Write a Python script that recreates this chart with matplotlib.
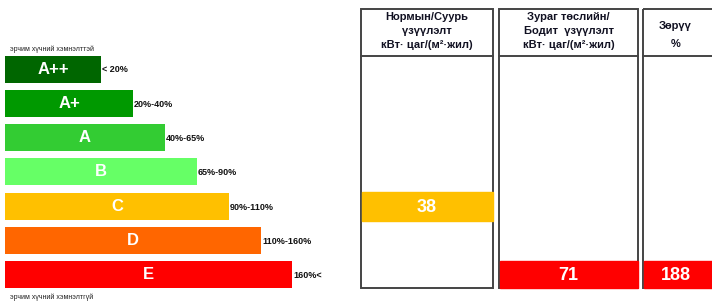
import matplotlib.pyplot as plt
from matplotlib.patches import Rectangle

plt.rcParams['font.family'] = ['Liberation Sans', 'DejaVu Sans']

# energy class scale
grades = ['A++', 'A+', 'A', 'B', 'C', 'D', 'E']
grade_len = [96, 128, 160, 192, 224, 256, 287]
ranges = ['< 20%', '20%-40%', '40%-65%', '65%-90%', '90%-110%', '110%-160%', '160%<']
colors = ['#006600', '#009900', '#33cc33', '#66ff66', '#ffc000', '#ff6600', '#ff0000']

top_note = 'эрчим хүчний хэмнэлттэй'
bottom_note = 'эрчим хүчний хэмнэлтгүй'

# table columns
headers = ['Нормын/Суурь\nүзүүлэлт\nкВт· цаг/(м²·жил)',
           'Зураг төслийн/\nБодит  үзүүлэлт\nкВт· цаг/(м²·жил)',
           'Зөрүү\n%']
table_vals = [38, 71, 188]
table_rows = ['C', 'E', 'E']

fig = plt.figure(figsize=(7.12, 3.02), dpi=100)
ax = fig.add_axes([0, 0, 1, 1])
ax.set_xlim(0, 712)
ax.set_ylim(302, 0)
ax.axis('off')

row_y = [69 + i * 34.3 for i in range(len(grades))]
row_h = 27
x0 = 5

ax.barh(row_y, grade_len, left=x0, height=row_h, color=colors)
for y, g, w, r in zip(row_y, grades, grade_len, ranges):
    ax.text(x0 + w / 2, y, g, color='white', fontsize=12, fontweight='bold',
            ha='center', va='center')
    ax.text(x0 + w + 1, y + 1, r, color='#111111', fontsize=6.5, fontweight='bold',
            ha='left', va='center')

ax.text(10, 49, top_note, fontsize=5, color='#222222', ha='left', va='center')
ax.text(10, 297, bottom_note, fontsize=5, color='#222222', ha='left', va='center')

# table boxes
cols = [(361, 493), (499, 638), (643, 716)]
tab_top, head_bot, tab_bot = 9, 56, 288
line_c = '#444444'
for (xl, xr), h in zip(cols, headers):
    ax.add_patch(Rectangle((xl, tab_top), xr - xl, tab_bot - tab_top,
                           fill=False, edgecolor=line_c, lw=1.4))
    ax.plot([xl, xr], [head_bot, head_bot], color=line_c, lw=1.4)
    three = h.count('\n') == 2
    ax.text((xl + xr) / 2 - (0 if xr < 700 else 4), 31 if three else 35, h,
            fontsize=8, fontweight='bold', ha='center', va='center',
            linespacing=1.55 if three else 1.9, color='#111122')

for (xl, xr), v, g in zip(cols, table_vals, table_rows):
    i = grades.index(g)
    ax.add_patch(Rectangle((xl + 1, row_y[i] - row_h / 2 - 1 if g == 'C' else row_y[i] - row_h / 2),
                           xr - xl - 1, row_h + (2 if g == 'C' else 0),
                           color=colors[i], zorder=3))
    ax.text((xl + xr) / 2 - (0 if xr < 700 else 4), row_y[i] + 1, str(v),
            color='white', fontsize=13, fontweight='bold',
            ha='center', va='center', zorder=4)

fig.savefig('out.png', dpi=100)
